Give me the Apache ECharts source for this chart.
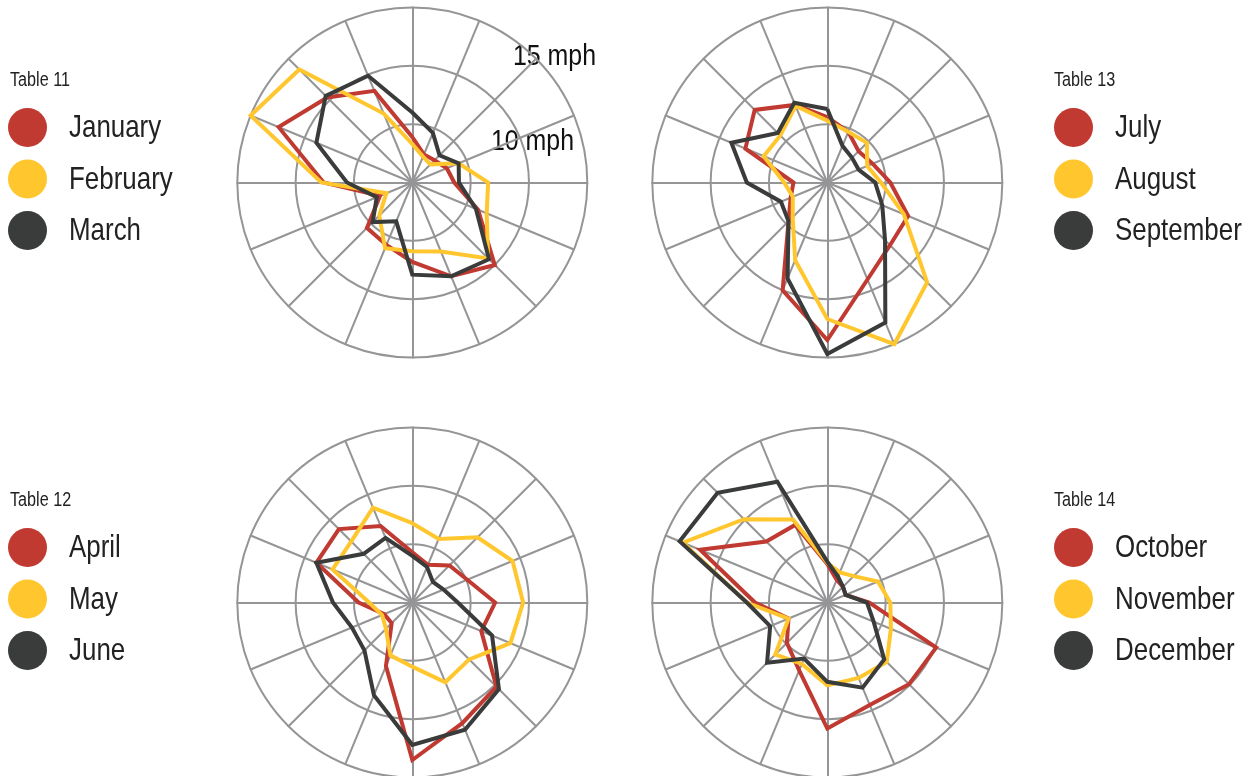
<!DOCTYPE html>
<html>
<head>
<meta charset="utf-8">
<script src="https://cdn.jsdelivr.net/npm/echarts@6/dist/echarts.min.js"></script>
<style>
html,body{margin:0;padding:0;background:#fff;}
#chart{width:1255px;height:776px;}
</style>
</head>
<body>
<div id="chart"></div>
<script>
// Wind directions, clockwise from North
const directions = ['N','NNE','NE','ENE','E','ESE','SE','SSE','S','SSW','SW','WSW','W','WNW','NW','NNW'];
const ringTicks = [5, 10, 15];
const ringLabels = ['10 mph', '15 mph'];
const tableTitles = ['Table 11', 'Table 12', 'Table 13', 'Table 14'];

// Average wind speed (mph) by direction, clockwise from N
const january   = [3.9, 2.6, 2.7, 3.2, 3.6, 6.1, 10.0, 8.7, 6.8, 5.8, 5.5, 3.0, 7.6, 12.4, 10.3, 8.5];
const february  = [3.3, 2.4, 2.2, 4.3, 6.5, 6.9, 9.2, 6.4, 5.9, 6.1, 4.0, 2.4, 7.8, 15.0, 13.7, 6.4];
const march     = [6.0, 4.6, 3.3, 4.3, 4.0, 5.9, 9.3, 8.7, 7.9, 3.6, 4.8, 3.3, 5.6, 8.9, 10.5, 9.9];
const april     = [4.3, 3.5, 4.5, 5.1, 7.1, 6.4, 10.2, 11.2, 13.5, 5.9, 2.5, 2.6, 4.6, 8.9, 8.9, 7.1];
const may       = [6.8, 5.9, 7.9, 9.3, 9.5, 9.1, 6.9, 7.4, 5.5, 4.9, 3.2, 2.8, 3.7, 7.4, 7.4, 8.8];
const june      = [4.0, 3.3, 2.5, 2.9, 3.9, 7.4, 10.5, 11.8, 12.2, 8.6, 5.8, 5.6, 6.8, 8.9, 5.9, 6.0];
const july      = [5.6, 4.7, 3.8, 4.2, 5.4, 7.5, 7.6, 9.0, 13.5, 10.0, 4.7, 3.4, 2.9, 7.6, 8.8, 7.2];
const august    = [5.3, 4.7, 4.8, 3.7, 4.6, 7.1, 12.1, 15.0, 11.7, 7.2, 4.2, 3.2, 3.7, 5.9, 5.7, 7.1];
const september = [6.3, 3.4, 3.0, 2.9, 4.1, 5.1, 7.0, 13.0, 14.7, 8.9, 4.7, 4.3, 6.9, 8.9, 6.0, 7.4];
const october   = [3.3, 2.1, 1.9, 1.7, 3.6, 10.1, 9.9, 9.5, 10.8, 6.3, 4.9, 3.6, 6.2, 11.8, 7.4, 7.2];
const november  = [3.4, 2.8, 3.2, 4.7, 5.4, 5.9, 7.2, 7.0, 7.1, 5.7, 6.3, 3.6, 6.9, 13.4, 10.1, 7.7];
const december  = [3.5, 2.4, 1.9, 1.7, 3.4, 4.3, 6.9, 7.9, 6.8, 5.2, 7.3, 5.3, 6.9, 13.7, 13.3, 11.2];

const groups = [
  { names: ['January', 'February', 'March'], values: [january, february, march] },
  { names: ['April', 'May', 'June'], values: [april, may, june] },
  { names: ['July', 'August', 'September'], values: [july, august, september] },
  { names: ['October', 'November', 'December'], values: [october, november, december] }
];

const colors = ['#C03A31', '#FFC62E', '#3A3B3B'];
const gridColor = '#959597';
const FONT = "'Liberation Sans', Arial, sans-serif";
const NARROW = 0.81; // horizontal squeeze to mimic the condensed face

// ECharts radar lays indicators counter-clockwise; reorder so N stays on top and order runs clockwise
function cw(arr) { return [arr[0]].concat(arr.slice(1).reverse()); }

const centers = [[412.3, 182.5], [412.3, 602.5], [827.3, 182.5], [827.3, 602.5]];
const legendPos = [[27.5, 127.5], [27.5, 547.5], [1073.5, 127.5], [1073.5, 547.5]];
const titlePos = [[10, 80.5], [10, 500.5], [1054, 80.5], [1054, 500.5]];
const R = 175;

const radars = centers.map(c => ({
  center: c,
  radius: R,
  startAngle: 90,
  shape: 'circle',
  splitNumber: ringTicks.length,
  indicator: cw(directions).map(d => ({ name: d, min: 0, max: ringTicks[ringTicks.length - 1] })),
  axisName: { show: false },
  axisLine: { lineStyle: { color: gridColor, width: 2 } },
  splitLine: { lineStyle: { color: gridColor, width: 2 } },
  splitArea: { show: false },
  silent: true
}));

const series = groups.map((g, i) => ({
  type: 'radar',
  radarIndex: i,
  symbol: 'none',
  silent: true,
  data: g.names.map((n, k) => ({
    name: n,
    value: cw(g.values[k]),
    itemStyle: { color: colors[k] },
    lineStyle: { color: colors[k], width: 4, join: 'miter' }
  }))
}));

const graphics = [];
tableTitles.forEach((t, i) => {
  graphics.push({
    type: 'text', x: titlePos[i][0], y: titlePos[i][1], scaleX: NARROW, silent: true,
    style: { text: t, font: "20px " + FONT, fill: '#222', verticalAlign: 'middle', align: 'left' }
  });
});
groups.forEach((g, i) => {
  g.names.forEach((n, k) => {
    const cx = legendPos[i][0], cy = legendPos[i][1] + k * 51.5;
    graphics.push({ type: 'circle', silent: true, shape: { cx: cx, cy: cy, r: 19.5 }, style: { fill: colors[k] } });
    graphics.push({
      type: 'text', x: cx + 41.5, y: cy + 1, scaleX: NARROW, silent: true,
      style: { text: n, font: "32px " + FONT, fill: '#222', verticalAlign: 'middle', align: 'left' }
    });
  });
});
graphics.push(
  { type: 'text', x: 491, y: 142, scaleX: 0.83, silent: true,
    style: { text: ringLabels[0], font: "30px " + FONT, fill: '#111', verticalAlign: 'middle' } },
  { type: 'text', x: 513, y: 57, scaleX: 0.83, silent: true,
    style: { text: ringLabels[1], font: "30px " + FONT, fill: '#111', verticalAlign: 'middle' } }
);

const chart = echarts.init(document.getElementById('chart'), null, { renderer: 'canvas' });
chart.setOption({
  animation: false,
  backgroundColor: '#fff',
  radar: radars,
  graphic: graphics,
  series: series
});
</script>
</body>
</html>
